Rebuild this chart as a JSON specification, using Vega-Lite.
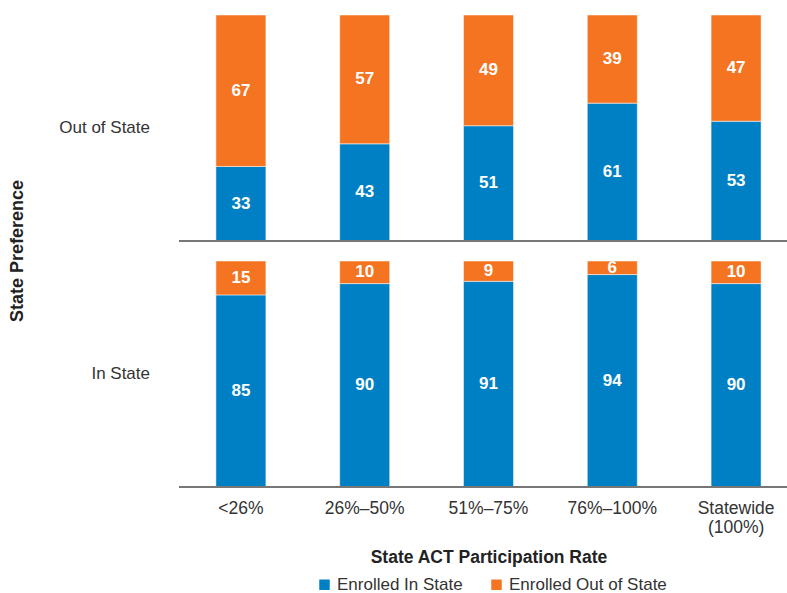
{
  "$schema": "https://vega.github.io/schema/vega-lite/v6.json",
  "padding": {"left": 9, "top": 14, "right": 0, "bottom": 0},
  "config": {
    "font": "Liberation Sans",
    "view": {"stroke": null},
    "axis": {"labelFont": "Liberation Sans", "titleFont": "Liberation Sans"}
  },
  "data": {
    "values": [
      {"pref": "Out of State", "rate": "<26%", "status": "Enrolled In State", "value": 33},
      {"pref": "Out of State", "rate": "<26%", "status": "Enrolled Out of State", "value": 67},
      {"pref": "Out of State", "rate": "26%–50%", "status": "Enrolled In State", "value": 43},
      {"pref": "Out of State", "rate": "26%–50%", "status": "Enrolled Out of State", "value": 57},
      {"pref": "Out of State", "rate": "51%–75%", "status": "Enrolled In State", "value": 51},
      {"pref": "Out of State", "rate": "51%–75%", "status": "Enrolled Out of State", "value": 49},
      {"pref": "Out of State", "rate": "76%–100%", "status": "Enrolled In State", "value": 61},
      {"pref": "Out of State", "rate": "76%–100%", "status": "Enrolled Out of State", "value": 39},
      {"pref": "Out of State", "rate": "Statewide (100%)", "status": "Enrolled In State", "value": 53},
      {"pref": "Out of State", "rate": "Statewide (100%)", "status": "Enrolled Out of State", "value": 47},
      {"pref": "In State", "rate": "<26%", "status": "Enrolled In State", "value": 85},
      {"pref": "In State", "rate": "<26%", "status": "Enrolled Out of State", "value": 15},
      {"pref": "In State", "rate": "26%–50%", "status": "Enrolled In State", "value": 90},
      {"pref": "In State", "rate": "26%–50%", "status": "Enrolled Out of State", "value": 10},
      {"pref": "In State", "rate": "51%–75%", "status": "Enrolled In State", "value": 91},
      {"pref": "In State", "rate": "51%–75%", "status": "Enrolled Out of State", "value": 9},
      {"pref": "In State", "rate": "76%–100%", "status": "Enrolled In State", "value": 94},
      {"pref": "In State", "rate": "76%–100%", "status": "Enrolled Out of State", "value": 6},
      {"pref": "In State", "rate": "Statewide (100%)", "status": "Enrolled In State", "value": 90},
      {"pref": "In State", "rate": "Statewide (100%)", "status": "Enrolled Out of State", "value": 10}
    ]
  },
  "facet": {
    "row": {
      "field": "pref",
      "type": "nominal",
      "sort": ["Out of State", "In State"],
      "title": "State Preference",
      "header": {
        "labelAngle": 0,
        "labelAlign": "left",
        "labelOrient": "left",
        "labelFont": "Liberation Sans",
        "labelFontSize": 17,
        "labelColor": "#333333",
        "labelPadding": 28,
        "titleFont": "Liberation Sans",
        "titleFontSize": 18,
        "titleFontWeight": "bold",
        "titleColor": "#222222",
        "titleOrient": "left",
        "titlePadding": 22
      }
    }
  },
  "spacing": 16,
  "spec": {
    "width": 619,
    "height": 226,
    "layer": [
      {
        "mark": {"type": "bar", "stroke": "#ffffff", "strokeWidth": 0.5},
        "encoding": {
          "x": {
            "field": "rate",
            "type": "nominal",
            "sort": null,
            "scale": {"paddingInner": 0.596, "paddingOuter": 0.298},
            "axis": {
              "title": "State ACT Participation Rate",
              "titleFontSize": 17.5,
              "titleFontWeight": "bold",
              "titleColor": "#222222",
              "titlePadding": 12,
              "labelFontSize": 17.5,
              "labelColor": "#333333",
              "labelAngle": 0,
              "labelPadding": 11,
              "labelExpr": "split(datum.label, ' ')",
              "ticks": false,
              "domain": false
            }
          },
          "y": {
            "field": "value",
            "type": "quantitative",
            "stack": "zero",
            "scale": {"domain": [0, 100]},
            "axis": null
          },
          "color": {
            "field": "status",
            "type": "nominal",
            "scale": {"domain": ["Enrolled In State", "Enrolled Out of State"], "range": ["#0080C4", "#F47421"]},
            "legend": {
              "title": null,
              "orient": "none",
              "legendX": 137,
              "legendY": 561,
              "direction": "horizontal",
              "symbolType": "square",
              "symbolSize": 110,
              "symbolStrokeWidth": 0,
              "labelFontSize": 17,
              "labelColor": "#333333",
              "labelFont": "Liberation Sans",
              "columnPadding": 25,
              "labelOffset": 4
            }
          },
          "order": {"field": "status", "sort": "ascending"}
        }
      },
      {
        "mark": {"type": "text", "color": "#ffffff", "fontWeight": "bold", "fontSize": 17, "baseline": "middle"},
        "encoding": {
          "x": {"field": "rate", "type": "nominal", "sort": null},
          "y": {"field": "value", "type": "quantitative", "stack": "zero", "bandPosition": 0.5},
          "detail": {"field": "status"},
          "order": {"field": "status", "sort": "ascending"},
          "text": {"field": "value", "type": "quantitative"}
        }
      },
      {
        "mark": {"type": "rule", "color": "#777777", "strokeWidth": 2},
        "encoding": {"y": {"datum": 0}}
      }
    ]
  },
  "resolve": {"scale": {"x": "shared"}}
}
